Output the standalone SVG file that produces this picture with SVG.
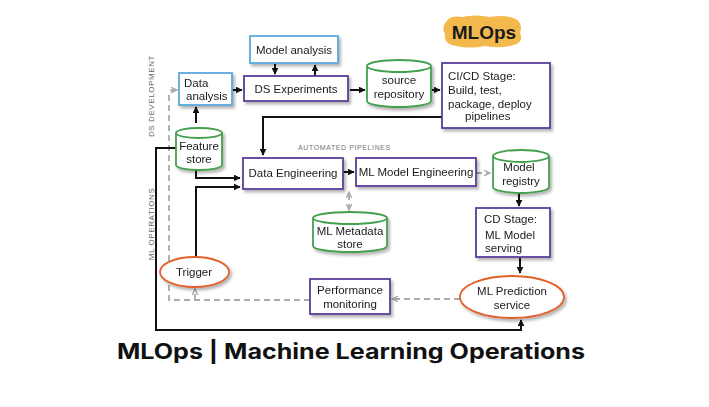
<svg xmlns="http://www.w3.org/2000/svg" width="709" height="407" viewBox="0 0 709 407">
<style>
.box{fill:#fff;stroke-width:1.8}
.purple{stroke:#5b3f9a}
.blue{stroke:#5aa9dc}
.green{stroke:#45a04e}
.orange{stroke:#e2612a}
.lbl{font-family:"Liberation Sans",Arial,sans-serif;font-size:11.5px;fill:#1a1a1a}
.c{text-anchor:middle}
.conn{fill:none;stroke:#111;stroke-width:2}
.dash{fill:none;stroke:#aaa;stroke-width:1.8;stroke-dasharray:6 4}
.side{font-family:"Liberation Sans",Arial,sans-serif;font-size:8px;fill:#666;letter-spacing:0.6px;text-anchor:middle}
</style>
<defs>
<filter id="sh" x="-20%" y="-20%" width="150%" height="160%">
<feDropShadow dx="2" dy="2.5" stdDeviation="1.6" flood-color="#000" flood-opacity="0.3"/>
</filter>
<marker id="ab" viewBox="0 0 10 10" refX="9" refY="5" markerWidth="7" markerHeight="7" markerUnits="userSpaceOnUse" orient="auto-start-reverse">
<path d="M0,0 L10,5 L0,10 z" fill="#111"/>
</marker>
<marker id="ag" viewBox="0 0 10 10" refX="9" refY="5" markerWidth="7" markerHeight="7" markerUnits="userSpaceOnUse" orient="auto-start-reverse">
<path d="M0,1 L9,5 L0,9" fill="none" stroke="#aaa" stroke-width="2"/>
</marker>
</defs>
<rect width="709" height="407" fill="#fff"/>

<g id="labels">
<text class="side" transform="translate(154,96) rotate(-90)">DS DEVELOPMENT</text>
<text class="side" transform="translate(154,224) rotate(-90)">ML OPERATIONS</text>
<text font-family="'Liberation Sans',Arial,sans-serif" font-size="7px" fill="#777" letter-spacing="0.6" x="298" y="150">AUTOMATED PIPELINES</text>
</g>

<g id="mlops">
<path d="M446,22 Q450,15 462,17 Q475,14 490,17 Q505,14 516,19 Q523,24 520,33 Q524,42 514,45 Q500,49 485,46 Q470,49 456,46 Q443,44 445,34 Q441,28 446,22 z" fill="#f3b94d"/>
<text x="484" y="39" font-family="'Liberation Sans',Arial,sans-serif" font-size="19px" font-weight="bold" fill="#1a1a1a" text-anchor="middle">MLOps</text>
</g>

<g id="connectors">
<path class="conn" d="M196,123 L196,107" marker-end="url(#ab)"/>
<path class="conn" d="M232,90 L242,90" marker-end="url(#ab)"/>
<path class="conn" d="M275,63 L275,74" marker-end="url(#ab)"/>
<path class="conn" d="M315,76 L315,65" marker-end="url(#ab)"/>
<path class="conn" d="M350,90 L365,90" marker-end="url(#ab)"/>
<path class="conn" d="M431,90 L440,90" marker-end="url(#ab)"/>
<path class="conn" d="M442,117 L263,117 L263,155" marker-end="url(#ab)"/>
<path class="conn" d="M196,170 L196,178 L240,178" marker-end="url(#ab)"/>
<path class="conn" d="M196,257 L196,187 L240,187" marker-end="url(#ab)"/>
<path class="conn" d="M343,172 L354,172" marker-end="url(#ab)"/>
<path class="dash" d="M476,173 L490,173" stroke-dasharray="4 3" marker-end="url(#ag)"/>
<path class="conn" d="M519,193 L519,206" marker-end="url(#ab)"/>
<path class="conn" d="M520,258 L520,273" marker-end="url(#ab)"/>
<path class="dash" d="M460,299 L392,299" marker-end="url(#ag)"/>
<path class="dash" d="M310,300 L169,300 L169,95 Q169,90 174,90 L177,90" marker-end="url(#ag)"/>
<path class="dash" d="M195,300 L195,289" stroke-dasharray="none" marker-end="url(#ag)"/>
<path class="dash" d="M349,210 L349,192" stroke-dasharray="3 3" marker-start="url(#ag)" marker-end="url(#ag)"/>
<path class="conn" d="M176,148 L156,148 L156,330 L521,330 L521,320" marker-end="url(#ab)"/>
</g>

<g id="model-analysis" filter="url(#sh)">
<rect class="box blue" x="250" y="36" width="88" height="27"/>
<text class="lbl c" x="294" y="54">Model analysis</text>
</g>
<g id="data-analysis" filter="url(#sh)">
<rect class="box blue" x="179" y="73" width="53" height="32"/>
<text class="lbl" x="184" y="87">Data</text>
<text class="lbl" x="186" y="100">analysis</text>
</g>
<g id="ds-experiments" filter="url(#sh)">
<rect class="box purple" x="244" y="76" width="104" height="25"/>
<text class="lbl c" x="296" y="93">DS Experiments</text>
</g>
<g id="source-repository" filter="url(#sh)">
<path class="box green" d="M367,66 L367,101 A32,6 0 0 0 431,101 L431,66"/>
<ellipse class="box green" cx="399" cy="66" rx="32" ry="6"/>
<text class="lbl c" x="399" y="84">source</text>
<text class="lbl c" x="399" y="98">repository</text>
</g>
<g id="cicd-stage" filter="url(#sh)">
<rect class="box purple" x="442" y="63" width="108" height="65"/>
<text class="lbl" x="448" y="80">CI/CD Stage:</text>
<text class="lbl" x="448" y="94">Build, test,</text>
<text class="lbl" x="448" y="108">package, deploy</text>
<text class="lbl" x="465" y="120">pipelines</text>
</g>
<g id="feature-store" filter="url(#sh)">
<path class="box green" d="M176,133 L176,165 A23,5 0 0 0 222,165 L222,133"/>
<ellipse class="box green" cx="199" cy="133" rx="23" ry="5"/>
<text class="lbl c" x="199" y="150">Feature</text>
<text class="lbl c" x="199" y="163">store</text>
</g>
<g id="data-engineering" filter="url(#sh)">
<rect class="box purple" x="243" y="158" width="100" height="31"/>
<text class="lbl c" x="293" y="177">Data Engineering</text>
</g>
<g id="ml-model-engineering" filter="url(#sh)">
<rect class="box purple" x="356" y="158" width="120" height="28"/>
<text class="lbl c" x="416" y="176">ML Model Engineering</text>
</g>
<g id="model-registry" filter="url(#sh)">
<path class="box green" d="M493,156 L493,187 A28,6 0 0 0 549,187 L549,156"/>
<ellipse class="box green" cx="521" cy="156" rx="28" ry="6"/>
<text class="lbl c" x="519" y="171">Model</text>
<text class="lbl c" x="521" y="185">registry</text>
</g>
<g id="cd-stage" filter="url(#sh)">
<rect class="box purple" x="476" y="208" width="74" height="49"/>
<text class="lbl" x="484" y="223">CD Stage:</text>
<text class="lbl" x="485" y="239">ML Model</text>
<text class="lbl" x="485" y="252">serving</text>
</g>
<g id="ml-metadata-store" filter="url(#sh)">
<path class="box green" d="M313,218 L313,246 A37,6 0 0 0 387,246 L387,218"/>
<ellipse class="box green" cx="350" cy="218" rx="37" ry="6"/>
<text class="lbl c" x="350" y="235">ML Metadata</text>
<text class="lbl c" x="350" y="248">store</text>
</g>
<g id="trigger" filter="url(#sh)">
<ellipse class="box orange" cx="194.5" cy="272" rx="34.5" ry="15"/>
<text class="lbl c" x="194" y="276">Trigger</text>
</g>
<g id="performance-monitoring" filter="url(#sh)">
<rect class="box purple" x="310" y="279" width="80" height="35"/>
<text class="lbl c" x="350" y="294">Performance</text>
<text class="lbl c" x="350" y="308">monitoring</text>
</g>
<g id="ml-prediction-service" filter="url(#sh)">
<ellipse class="box orange" cx="512" cy="297" rx="52" ry="21"/>
<text class="lbl c" x="512" y="295">ML Prediction</text>
<text class="lbl c" x="512" y="309">service</text>
</g>

<text x="351" y="359" font-family="Inter,'Open Sans',sans-serif" font-size="21px" font-weight="bold" fill="#111" text-anchor="middle" textLength="468" lengthAdjust="spacingAndGlyphs">MLOps | Machine Learning Operations</text>
</svg>
